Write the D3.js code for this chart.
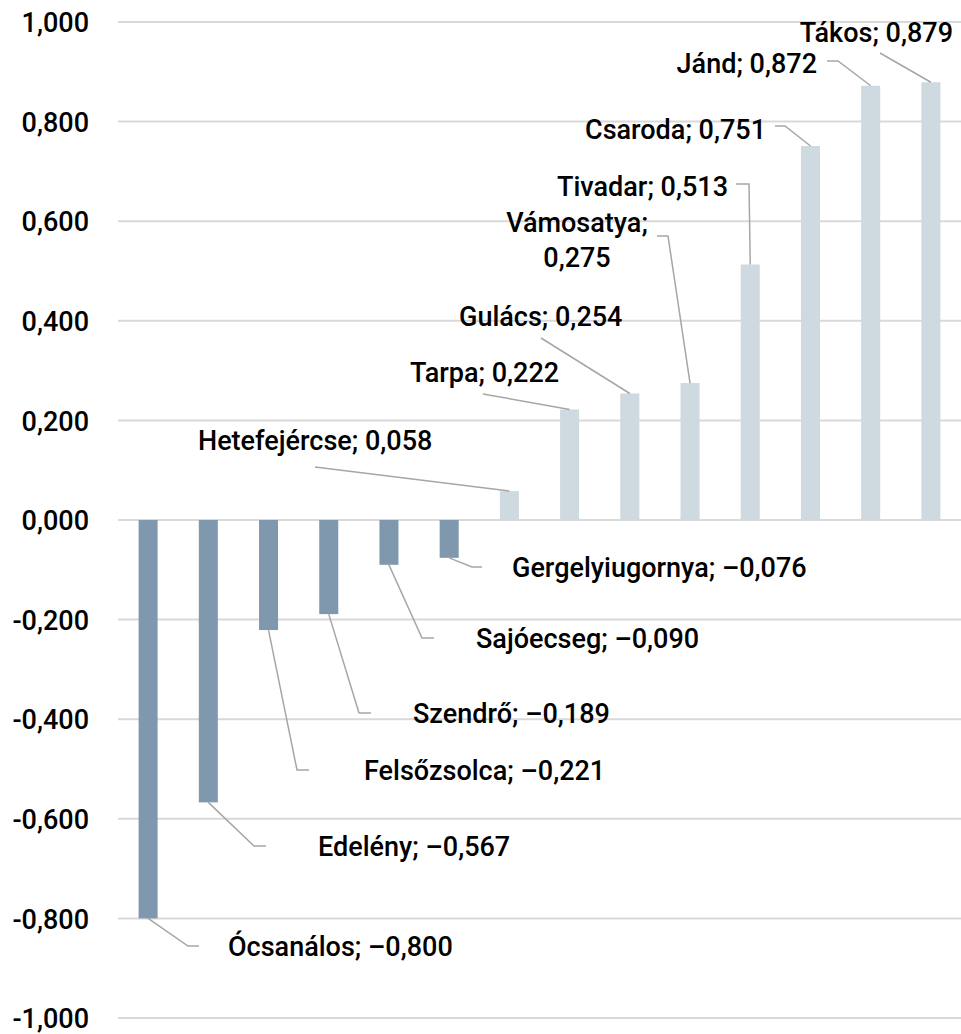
<!DOCTYPE html>
<html>
<head>
<meta charset="utf-8">
<script src="https://cdn.jsdelivr.net/npm/d3@7/dist/d3.min.js"></script>
<style>
  html, body { margin: 0; padding: 0; background: #ffffff; }
  svg { display: block; }
  text { font-family: Roboto, "Noto Sans", sans-serif; font-weight: 500; fill: #000; }
</style>
</head>
<body>
<svg id="chart" width="961" height="1034"></svg>
<script>
// ---- data ----
const categories = ["Ócsanálos", "Edelény", "Felsőzsolca", "Szendrő", "Sajóecseg", "Gergelyiugornya",
  "Hetefejércse", "Tarpa", "Gulács", "Vámosatya", "Tivadar", "Csaroda", "Jánd", "Tákos"];
const values = [-0.800, -0.567, -0.221, -0.189, -0.090, -0.076,
  0.058, 0.222, 0.254, 0.275, 0.513, 0.751, 0.872, 0.879];
const tickValues = [-1, -0.8, -0.6, -0.4, -0.2, 0, 0.2, 0.4, 0.6, 0.8, 1];

// ---- label layout (annotation placement, pixels) ----
// anchor, text x, text centre y(s), elbow points for leader (after bar end)
const labelLayout = [
  { anchor: "start",  x: 228, y: [946], elbow: [[188, 946], [199, 946]] },
  { anchor: "start",  x: 318, y: [846], elbow: [[254, 846], [266, 846]] },
  { anchor: "start",  x: 364, y: [770], elbow: [[297, 770], [309, 770]] },
  { anchor: "start",  x: 413, y: [713], elbow: [[359, 713], [371, 713]] },
  { anchor: "start",  x: 476, y: [638], elbow: [[422, 638], [434, 638]] },
  { anchor: "start",  x: 512, y: [567], elbow: [[472, 567], [482, 567]] },
  { anchor: "start",  x: 198, y: [440], elbow: [[315, 467]] },
  { anchor: "start",  x: 410, y: [372], elbow: [[483, 394]] },
  { anchor: "start",  x: 459, y: [316], elbow: [[541, 338]] },
  { anchor: "middle", x: 577, y: [222, 257], elbow: [[668, 236], [657, 236]], split: true },
  { anchor: "end",    x: 728, y: [186], elbow: [[749, 184], [736, 184]] },
  { anchor: "end",    x: 766, y: [129], elbow: [[785, 126], [775, 126]] },
  { anchor: "end",    x: 817, y: [63],  elbow: [[838, 61], [827, 61]] },
  { anchor: "end",    x: 953, y: [32],  elbow: [[880, 53]] }
];

const fmt = v => d3.format(".3f")(v).replace(".", ",").replace("−", "-");
const fmtLabel = v => d3.format(".3f")(v).replace(".", ",").replace("-", "–").replace("−", "–");

const svg = d3.select("#chart");
const plotLeft = 118, plotRight = 961;
const y = d3.scaleLinear().domain([-1, 1]).range([1018, 22]);
const x = d3.scaleBand().domain(categories).range([plotLeft, plotRight]).paddingInner(0.684).paddingOuter(0.342);

// gridlines
svg.append("g").selectAll("line").data(tickValues).join("line")
  .attr("x1", plotLeft).attr("x2", plotRight)
  .attr("y1", d => y(d)).attr("y2", d => y(d))
  .attr("stroke", "#d9d9d9").attr("stroke-width", 2);

// y axis labels
const yAxis = d3.axisLeft(y).tickValues(tickValues).tickSize(0).tickPadding(0).tickFormat(fmt);
const ag = svg.append("g").attr("transform", "translate(89,0)").call(yAxis);
ag.select(".domain").remove();
ag.selectAll("text").attr("font-size", 27).attr("font-family", "Roboto, sans-serif").attr("font-weight", 500).attr("fill", "#000").attr("dy", "0.36em");

// bars
svg.append("g").selectAll("rect").data(values).join("rect")
  .attr("x", (d, i) => x(categories[i]))
  .attr("width", x.bandwidth())
  .attr("y", d => y(Math.max(0, d)))
  .attr("height", d => Math.abs(y(d) - y(0)))
  .attr("fill", d => d < 0 ? "#7f98ad" : "#cfd9e0");

// leader lines
const line = d3.line();
svg.append("g").selectAll("path").data(values).join("path")
  .attr("d", (d, i) => {
    const start = [x(categories[i]) + x.bandwidth() / 2, y(d)];
    return line([start, ...labelLayout[i].elbow]);
  })
  .attr("fill", "none").attr("stroke", "#a6a6a6").attr("stroke-width", 1.5);

// labels
const lg = svg.append("g");
values.forEach((v, i) => {
  const L = labelLayout[i];
  const lines = L.split ? [categories[i] + ";", fmtLabel(v)] : [categories[i] + "; " + fmtLabel(v)];
  lines.forEach((t, k) => {
    lg.append("text")
      .attr("x", L.x).attr("y", L.y[k]).attr("dy", "0.36em")
      .attr("text-anchor", L.anchor)
      .attr("font-size", 27)
      .text(t);
  });
});
</script>
</body>
</html>
